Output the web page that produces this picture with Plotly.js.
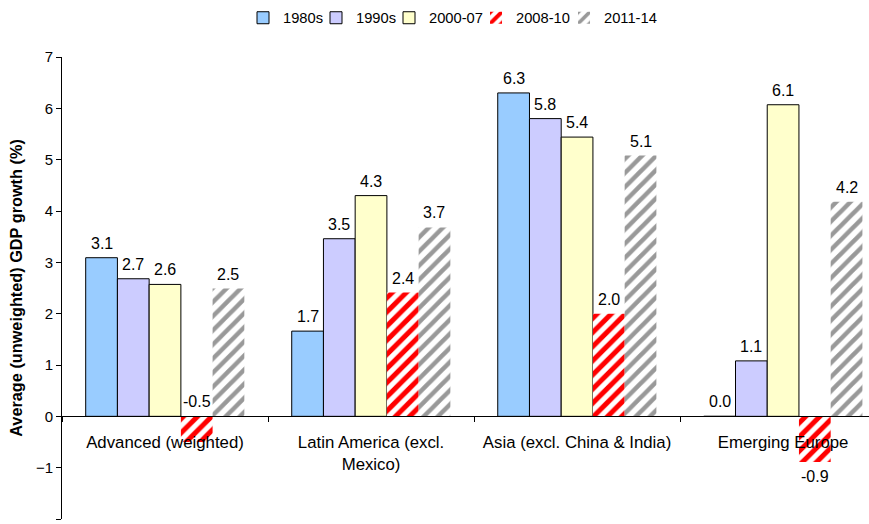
<!DOCTYPE html>
<html>
<head>
<meta charset="utf-8">
<script src="https://cdn.plot.ly/plotly-3.0.1.min.js"></script>
<style>html,body{margin:0;padding:0;background:#fff}#chart{width:869px;height:524px}</style>
</head>
<body>
<div id="chart"></div>
<script>
const categories = ["Advanced (weighted)", "Latin America (excl.<br>Mexico)", "Asia (excl. China & India)", "Emerging Europe"];
const seriesNames = ["1980s", "1990s", "2000-07", "2008-10", "2011-14"];
const v1980s  = [3.09, 1.66, 6.30, 0.00];
const v1990s  = [2.68, 3.46, 5.80, 1.08];
const v2000   = [2.57, 4.30, 5.44, 6.07];
const v2008   = [-0.50, 2.41, 2.00, -0.89];
const v2011   = [2.49, 3.68, 5.08, 4.18];
const allValues = [v1980s, v1990s, v2000, v2008, v2011];

const FONT = "Liberation Sans, Arial, sans-serif";
const bargap = 0.23;
const nS = allValues.length;
const barW = (1 - bargap) / nS;

const styles = [
  {color: "#99CCFF", line: {color: "#000", width: 1}},
  {color: "#CCCCFF", line: {color: "#000", width: 1}},
  {color: "#FFFFCC", line: {color: "#000", width: 1}},
  {color: "#FFFFFF", line: {width: 0}, pattern: {shape: "/", fgcolor: "#FF0000", bgcolor: "#FFFFFF", size: 10, solidity: 0.5}},
  {color: "#FFFFFF", line: {width: 0}, pattern: {shape: "/", fgcolor: "#999999", bgcolor: "#FFFFFF", size: 10, solidity: 0.45}}
];
const legendWidths = [28, 28, 42, 43, 58];

const traces = allValues.map((vals, i) => ({
  type: "bar",
  name: seriesNames[i],
  x: categories,
  y: vals,
  marker: styles[i],
  legendwidth: legendWidths[i],
  hoverinfo: "skip"
}));

const annotations = [];
allValues.forEach((vals, i) => {
  vals.forEach((v, c) => {
    const smallNeg = v < 0 && v > -0.6;
    annotations.push({
      x: c + (i - (nS - 1) / 2) * barW,
      y: smallNeg ? 0 : v,
      xref: "x", yref: "y",
      text: v.toFixed(1),
      showarrow: false,
      yanchor: (v >= 0 || smallNeg) ? "bottom" : "top",
      yshift: (v >= 0 || smallNeg) ? 4 : -4,
      font: {family: FONT, size: 16, color: "#000"}
    });
  });
});

const yMin = -2, yMax = 7;
const layout = {
  width: 869, height: 524,
  margin: {l: 62, r: 0, t: 57, b: 5},
  paper_bgcolor: "#fff", plot_bgcolor: "#fff",
  barmode: "group", bargap: bargap, bargroupgap: 0,
  font: {family: FONT, size: 14, color: "#000"},
  showlegend: true,
  legend: {orientation: "h", x: 0.487, xanchor: "center", y: 1.084, yanchor: "middle",
           font: {family: FONT, size: 14.7}, traceorder: "normal", itemwidth: 30},
  xaxis: {
    type: "category",
    range: [-0.5, 3.417],
    anchor: "free",
    position: (0 - yMin) / (yMax - yMin),
    showline: true, linecolor: "#000", linewidth: 1,
    ticks: "outside", tickson: "boundaries", ticklen: 5, tickcolor: "#000",
    ticklabelstandoff: 11,
    showgrid: false, zeroline: false,
    tickfont: {family: FONT, size: 16.8}
  },
  yaxis: {
    range: [yMin, yMax], dtick: 1, tick0: 0,
    showline: true, linecolor: "#000", linewidth: 1,
    ticks: "outside", ticklen: 5, tickcolor: "#000",
    showgrid: false, zeroline: false,
    tickfont: {family: FONT, size: 15},
    title: {text: "<b>Average (unweighted) GDP growth (%)</b>", font: {family: FONT, size: 16.3}, standoff: 9}
  },
  annotations: annotations
};

Plotly.newPlot("chart", traces, layout, {displayModeBar: false, staticPlot: true});
</script>
</body>
</html>
